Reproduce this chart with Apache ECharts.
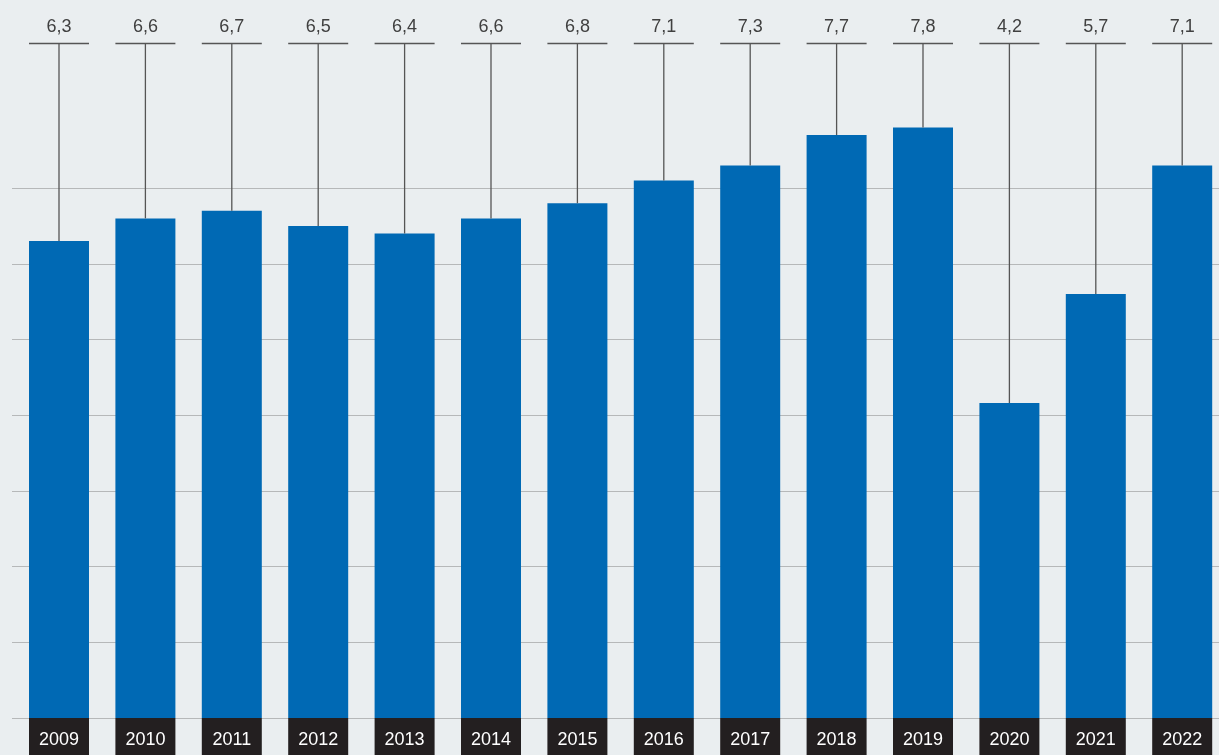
<!DOCTYPE html>
<html>
<head>
<meta charset="utf-8">
<script src="https://cdn.jsdelivr.net/npm/echarts@6/dist/echarts.min.js"></script>
<style>
html,body{margin:0;padding:0;background:#eaeef0;overflow:hidden;}
#chart{width:1226px;height:755px;}
</style>
</head>
<body>
<div id="chart"></div>
<script>
// ---- data ----
const years = ['2009','2010','2011','2012','2013','2014','2015','2016','2017','2018','2019','2020','2021','2022'];
const barValues = [6.3, 6.6, 6.7, 6.5, 6.4, 6.6, 6.8, 7.1, 7.3, 7.7, 7.8, 4.16, 5.6, 7.3];
const valueLabels = ['6,3','6,6','6,7','6,5','6,4','6,6','6,8','7,1','7,3','7,7','7,8','4,2','5,7','7,1'];
const gridTicks = [0, 1, 2, 3, 4, 5, 6, 7];
const axisMax = 9;
const connectorLevel = 8.91;

const FONT = '"Liberation Sans", Arial, Helvetica, sans-serif';
const chart = echarts.init(document.getElementById('chart'), null, {renderer: 'canvas'});

const option = {
  backgroundColor: '#eaeef0',
  animation: false,
  grid: [
    {left: 15.8, width: 86.4 * years.length, top: 718 - axisMax * 75.7, bottom: 37},
    {left: 12, right: 7, top: 718 - gridTicks[gridTicks.length - 1] * 75.7, bottom: 37}
  ],
  xAxis: [
    {
      type: 'category', gridIndex: 0, data: years,
      axisLine: {show: false}, axisTick: {show: false},
      axisLabel: {
        show: true, interval: 0, margin: 0,
        color: '#ffffff', fontFamily: FONT, fontSize: 18,
        backgroundColor: '#231f20',
        width: 60, height: 31, lineHeight: 33, align: 'center',
        verticalAlign: 'top', padding: [6, 0, 0, 0]
      }
    },
    {type: 'value', gridIndex: 1, show: false, min: 0, max: 1}
  ],
  yAxis: [
    {type: 'value', gridIndex: 0, min: 0, max: axisMax, interval: 1, show: false, splitLine: {show: false}},
    {
      type: 'value', gridIndex: 1, min: gridTicks[0], max: gridTicks[gridTicks.length - 1], interval: 1,
      axisLine: {show: false}, axisTick: {show: false}, axisLabel: {show: false},
      splitLine: {show: true, lineStyle: {color: '#b6b8b9', width: 1.2}}
    }
  ],
  series: [
    {
      type: 'bar', xAxisIndex: 0, yAxisIndex: 0,
      data: barValues, barWidth: 60,
      itemStyle: {color: '#0069b4'}, z: 3
    },
    {
      type: 'custom', xAxisIndex: 0, yAxisIndex: 0, clip: false, z: 4,
      data: barValues.map((v, i) => [i, v]),
      renderItem: function (params, api) {
        const i = api.value(0);
        const v = api.value(1);
        const top = api.coord([i, v]);
        const lvl = api.coord([i, connectorLevel]);
        const x = top[0];
        return {
          type: 'group',
          children: [
            {type: 'line', shape: {x1: x - 30, y1: lvl[1], x2: x + 30, y2: lvl[1]},
              style: {stroke: '#555555', lineWidth: 1.3}},
            {type: 'line', shape: {x1: x, y1: lvl[1], x2: x, y2: top[1]},
              style: {stroke: '#555555', lineWidth: 1.3}},
            {type: 'text', x: x, y: lvl[1] - 16.5,
              style: {text: valueLabels[i], fill: '#404040', font: '18px ' + FONT,
                textAlign: 'center', textVerticalAlign: 'middle'}}
          ]
        };
      }
    }
  ]
};
chart.setOption(option);
</script>
</body>
</html>
